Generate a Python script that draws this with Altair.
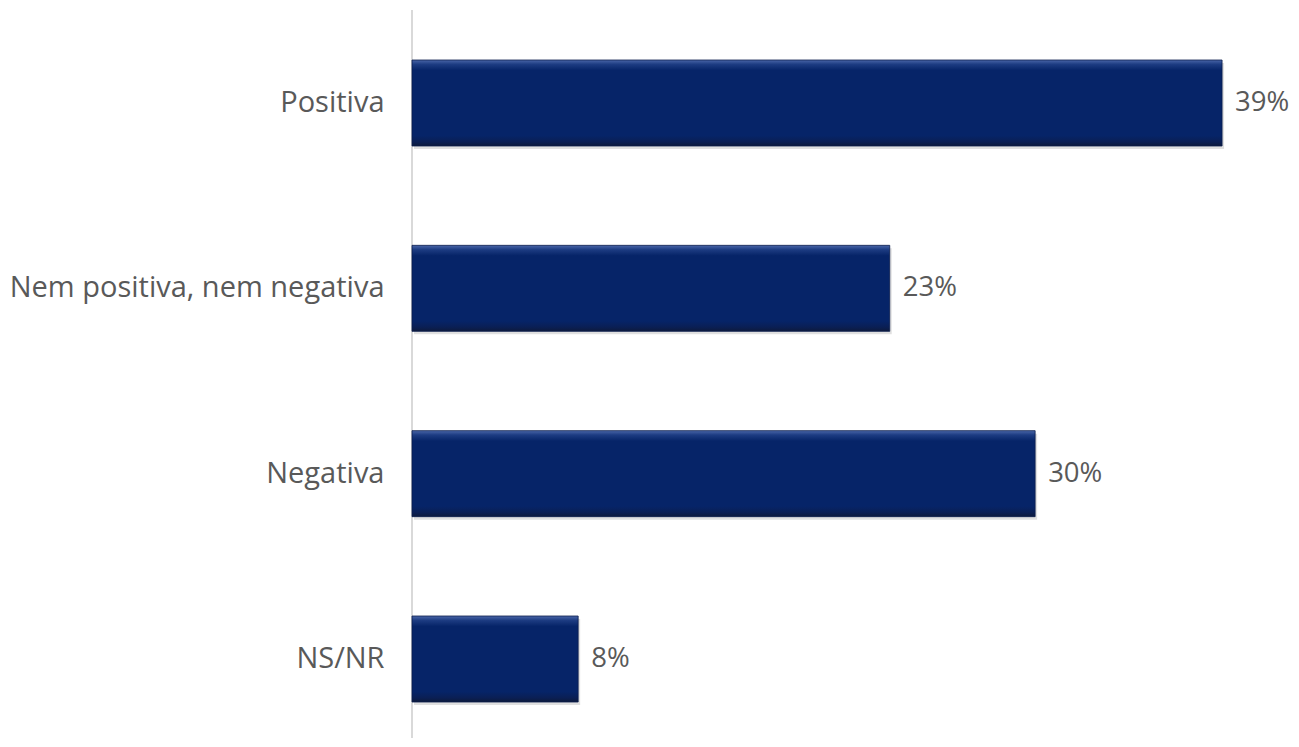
import altair as alt
import pandas as pd

categories = ["Positiva", "Nem positiva, nem negativa", "Negativa", "NS/NR"]
values = [39, 23, 30, 8]
labels = ["39%", "23%", "30%", "8%"]

df = pd.DataFrame({"cat": categories, "val": values, "lab": labels})

FONT = "Open Sans"
TEXT_COLOR = "#595959"

grad = alt.Gradient(
    gradient="linear",
    x1=0, y1=0, x2=0, y2=1,
    stops=[
        alt.GradientStop(offset=0, color="#4a66a8"),
        alt.GradientStop(offset=0.05, color="#1d3c82"),
        alt.GradientStop(offset=0.12, color="#062468"),
        alt.GradientStop(offset=0.88, color="#062468"),
        alt.GradientStop(offset=0.95, color="#0a1f55"),
        alt.GradientStop(offset=1, color="#0d1a3c"),
    ],
)

y_enc = alt.Y(
    "cat:N",
    sort=categories,
    scale=alt.Scale(range=[50, 692], paddingInner=0.536, paddingOuter=0),
    axis=alt.Axis(
        title=None,
        ticks=False,
        domain=False,
        labelFont=FONT,
        labelFontSize=29,
        labelColor=TEXT_COLOR,
        labelPadding=28,
        labelLimit=600,
    ),
)
x_enc = alt.X("val:Q", scale=alt.Scale(domain=[0, 41.5]), axis=None)

base = alt.Chart(df).encode(y=y_enc, x=x_enc)

axis_line = (
    alt.Chart(pd.DataFrame({"a": [0]}))
    .mark_rule(color="#d9d9d9", strokeWidth=2)
    .encode(x=alt.value(0), y=alt.value(0), y2=alt.value(730))
)
shadow = base.mark_bar(color="#000000", opacity=0.12, xOffset=2, yOffset=3)
bars = base.mark_bar(color=grad, stroke="#0b1d4d", strokeWidth=0.8)
text = base.mark_text(
    align="left", baseline="middle", dx=13, font=FONT, fontSize=27.5, color=TEXT_COLOR
).encode(text="lab:N")

chart = (
    alt.layer(axis_line, shadow, bars, text)
    .properties(
        width=862,
        height=728,
        background="white",
        autosize=alt.AutoSizeParams(type="none"),
        padding={"left": 404, "top": 2, "right": 17, "bottom": 0},
    )
    .configure_view(strokeWidth=0, stroke="transparent")
)

chart.save("out.html", embed_options={"renderer": "svg", "actions": False})
